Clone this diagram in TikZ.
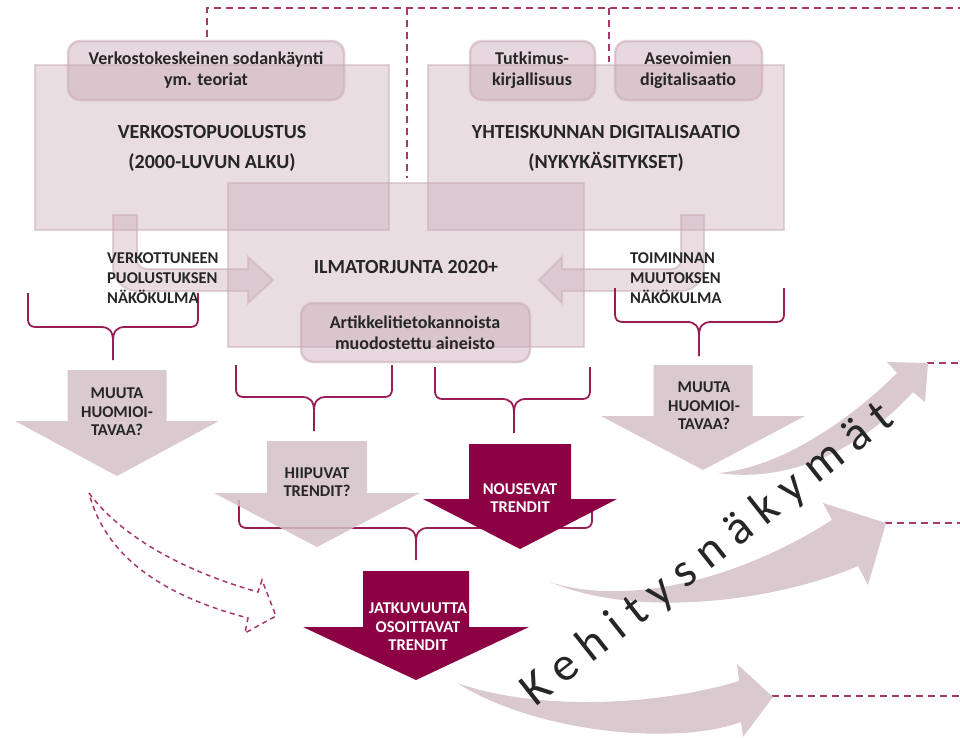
\documentclass[tikz,border=0pt]{standalone}
\usepackage{fontspec}
\setmainfont{Carlito}
\usetikzlibrary{calc}
\definecolor{wine}{HTML}{8C0044}
\definecolor{dashc}{HTML}{A8386B}
\definecolor{bracec}{HTML}{9A1E56}
\definecolor{mauve}{HTML}{C8A9B5}
\definecolor{arrowc}{HTML}{DACAD0}
\definecolor{hiipc}{HTML}{D3BFC7}
\definecolor{txt}{HTML}{262626}
\tikzset{
 bigbox/.style={fill=mauve, fill opacity=0.4, draw=mauve, draw opacity=0.5, line width=2.5},
 subbox/.style={fill=mauve, fill opacity=0.45, draw=mauve, draw opacity=0.55, line width=2.5, rounded corners=12},
 bentarrow/.style={fill=mauve, fill opacity=0.4, draw=mauve, draw opacity=0.5, line width=2},
 dashln/.style={draw=dashc, line width=1.6, dash pattern=on 7pt off 5pt},
 dashout/.style={draw=dashc, line width=1.5, dash pattern=on 5pt off 4pt},
 bracestyle/.style={draw=bracec, line width=1.8},
 lightarrow/.style={fill=arrowc},
 hiiparrow/.style={fill=hiipc, fill opacity=0.85},
 darkarrow/.style={fill=wine},
 lbl/.style={text=txt, font=\bfseries\fontsize{18}{21}\selectfont, align=center, inner sep=0},
 headtxt/.style={text=txt, font=\bfseries\fontsize{20}{30}\selectfont, align=center, inner sep=0},
 sidetxt/.style={text=txt, font=\bfseries\fontsize{16.5}{20}\selectfont, align=left, inner sep=0, anchor=west},
 arrtxt/.style={text=txt, font=\bfseries\fontsize{16.5}{18.5}\selectfont, align=center, inner sep=0},
 whitetxt/.style={arrtxt, text=white},
}
% down block arrow: style, cx, shaft half, top, head y, head half, tip y
\newcommand\dnarrow[7]{%
 \path[#1] ({#2-#3},#4) -- ({#2+#3},#4) -- ({#2+#3},#5) -- ({#2+#6},#5) -- (#2,#7) -- ({#2-#6},#5) -- ({#2-#3},#5) -- cycle;}
% brace: xl, xr, ytop, yh, xc, ybot
\newcommand\mybrace[6]{%
 \draw[bracestyle] (#1,#3) -- (#1,{#4-9}) .. controls (#1,{#4-2}) and ({#1+2},#4) .. ({#1+9},#4) -- ({#5-12},#4) .. controls ({#5-4},#4) and (#5,{#4+4}) .. (#5,{#4+14}) -- (#5,#6);
 \draw[bracestyle] (#5,{#4+14}) .. controls (#5,{#4+4}) and ({#5+4},#4) .. ({#5+12},#4) -- ({#2-9},#4) .. controls ({#2-2},#4) and (#2,{#4-2}) .. (#2,{#4-9}) -- (#2,#3);}
\begin{document}
\begin{tikzpicture}[x=1pt,y=-1pt]
\useasboundingbox (0,0) rectangle (960,737);
% dashed connectors
\coordinate (c1) at (207,37);
\coordinate (c2) at (960,8);
\draw[dashln] (c1) -- (207,8) -- (c2);
\draw[dashln] (407,8) -- (407,178);
\draw[dashln] (609,8) -- (609,62);
\draw[dashln] (927,363) -- (960,363);
\draw[dashln] (885,523) -- (960,523);
\draw[dashln] (772,696) -- (960,696);
% big boxes
\path[bigbox] (35,65) rectangle (389,230);
\path[bigbox] (428,65) rectangle (784,230);
\path[bigbox] (228,183) rectangle (584,347);
% sub boxes
\path[subbox] (68,41) rectangle (344,100);
\path[subbox] (470,41) rectangle (595,100);
\path[subbox] (615,41) rectangle (762,100);
\path[subbox] (301,303) rectangle (530,362);
% bent arrows
\path[bentarrow] (113,215) -- (137,215) -- (137,259) .. controls (137,265) and (141,269) .. (147,269) -- (248,269) -- (248,257) -- (273,280) -- (248,303) -- (248,291) -- (137,291) .. controls (124,291) and (113,280) .. (113,267) -- cycle;
\path[bentarrow] (704,215) -- (681,215) -- (681,259) .. controls (681,265) and (677,269) .. (671,269) -- (562,269) -- (562,257) -- (539,280) -- (562,303) -- (562,291) -- (681,291) .. controls (694,291) and (704,280) .. (704,267) -- cycle;
% braces
\mybrace{28}{198}{293}{327}{113}{360}
\mybrace{615}{784}{288}{322}{699}{356}
\mybrace{236}{392}{365}{397}{314}{431}
\mybrace{435}{590}{367}{399}{514}{433}
\mybrace{239}{592}{500}{528}{416}{560}
% down arrows
\dnarrow{lightarrow}{117}{49.5}{370}{421}{102}{476}
\dnarrow{lightarrow}{703}{49.5}{365}{416}{102}{470}
\dnarrow{hiiparrow}{317}{50}{441}{493}{103}{547}
\dnarrow{darkarrow}{520}{51}{444}{499}{97}{549}
\dnarrow{darkarrow}{416}{53}{571}{627}{113}{680}
% curved arrows
\path[lightarrow] (718,473) .. controls (780,468) and (850,420) .. (897,373) -- (887,362) -- (928,363) -- (925,402) -- (913,392) .. controls (860,450) and (790,483) .. (718,473) -- cycle;
\path[lightarrow] (550,582) .. controls (620,605) and (730,585) .. (832,520) -- (823,503) -- (886,523) -- (868,585) -- (858,566) .. controls (780,600) and (640,620) .. (550,582) -- cycle;
\path[lightarrow] (457,683) .. controls (540,712) and (660,705) .. (739,681) -- (737,664) -- (773,697) -- (743,737) -- (741,722) .. controls (680,745) and (540,735) .. (457,683) -- cycle;
% dashed outline arrow
\draw[dashout] (89,493) .. controls (120,535) and (180,570) .. (258,592) -- (262,580) -- (276,616) -- (245,633) -- (248,618) .. controls (160,595) and (105,555) .. (89,493) -- cycle;
% texts
\node[lbl] (t1) at (206,70.5) {Verkostokeskeinen sodankäynti\\ym. teoriat};
\node[headtxt] (t2) at (212,148) {VERKOSTOPUOLUSTUS\\(2000-LUVUN ALKU)};
\node[lbl] (t3) at (532,70.5) {Tutkimus-\\kirjallisuus};
\node[lbl] (t4) at (688,70.5) {Asevoimien\\digitalisaatio};
\node[headtxt] (t5) at (606,148) {YHTEISKUNNAN DIGITALISAATIO\\(NYKYKÄSITYKSET)};
\node[headtxt] (t6) at (406,267) {ILMATORJUNTA 2020+};
\node[lbl] (t7) at (415,333) {Artikkelitietokannoista\\muodostettu aineisto};
\node[sidetxt] (t8) at (107,278) {VERKOTTUNEEN\\PUOLUSTUKSEN\\NÄKÖKULMA};
\node[sidetxt] (t9) at (630,278) {TOIMINNAN\\MUUTOKSEN\\NÄKÖKULMA};
\node[arrtxt] (t10) at (117,412) {MUUTA\\HUOMIOI-\\TAVAA?};
\node[arrtxt] (t11) at (704,406) {MUUTA\\HUOMIOI-\\TAVAA?};
\node[arrtxt] (t12) at (317,482) {HIIPUVAT\\TRENDIT?};
\node[whitetxt] (t13) at (520,498) {NOUSEVAT\\TRENDIT};
\node[whitetxt] (t14) at (418,627) {JATKUVUUTTA\\OSOITTAVAT\\TRENDIT};
\node[text=txt, inner sep=0, rotate=38.3, font=\fontsize{48}{48}\selectfont\addfontfeature{LetterSpace=24}] (t15) at (708,555) {Kehitysnäkymät};
\end{tikzpicture}
\end{document}
